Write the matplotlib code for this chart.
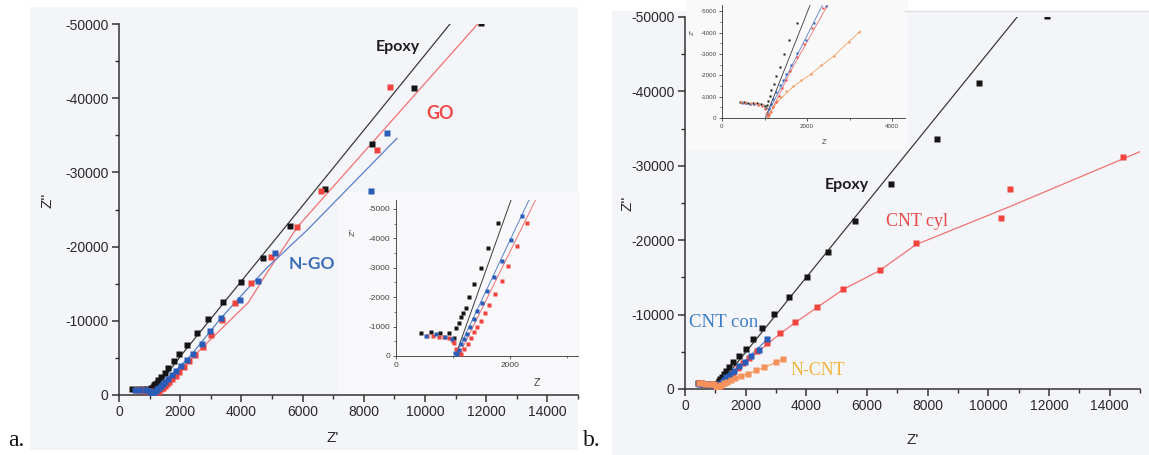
import matplotlib
matplotlib.use("Agg")
import matplotlib.pyplot as plt
from matplotlib.patches import Rectangle
from matplotlib.ticker import MultipleLocator

# ---------------- panel a: epoxy / GO / N-GO coatings ----------------
a_epoxy_x = [435, 610, 770, 930, 1020, 1061, 1100, 1142, 1183, 1235, 1287, 1374, 1490, 1612,
             1786, 1971, 2212, 2539, 2918, 3389, 3977, 4716, 5588, 6732, 8268, 9640, 11830]
a_epoxy_y = [-770, -800, -790, -770, -600, -950, -1120, -1320, -1460, -1630, -2000, -2440, -3000,
             -3670, -4520, -5500, -6760, -8290, -10230, -12480, -15180, -18470, -22840, -27700,
             -33780, -41350, -50150]
a_epoxy_fit_x = [1043, 2030, 10817]
a_epoxy_fit_y = [0, -5340, -50000]

a_go_x = [551, 650, 754, 850, 927, 1000, 1026, 1060, 1100, 1150, 1200, 1260, 1320, 1380, 1432,
          1496, 1565, 1641, 1739, 1855, 1971, 2133, 2301, 2484, 2750, 3007, 3350, 3780, 4310,
          4960, 5830, 6601, 8431, 8856]
a_go_y = [-680, -690, -660, -650, -600, -520, -450, -250, -120, -80, -250, -420, -600, -800,
          -1000, -1200, -1450, -1730, -2100, -2550, -3070, -3740, -4530, -5400, -6500, -8050,
          -10050, -12400, -15100, -18550, -22700, -27430, -32970, -41490]
a_go_fit_x = [1100, 2464, 3950, 4220, 4840, 5840, 11722]
a_go_fit_y = [0, -5340, -11350, -12430, -16500, -22700, -50000]

a_ngo_x = [522, 696, 870, 986, 1043, 1070, 1100, 1150, 1200, 1246, 1304, 1374, 1432, 1507, 1606,
           1728, 1855, 2023, 2214, 2410, 2707, 2974, 3340, 3954, 4537, 5098, 8235, 8758]
a_ngo_y = [-680, -740, -635, -570, -90, -60, -200, -400, -580, -750, -1000, -1250, -1540, -1810,
           -2210, -2680, -3240, -3950, -4760, -5550, -6900, -8650, -10420, -12750, -15400,
           -19200, -27430, -35270]
a_ngo_fit_x = [1043, 2348, 3300, 4052, 4837, 6134, 9085]
a_ngo_fit_y = [0, -5340, -10200, -13650, -17160, -22160, -34600]

# ---------------- panel b: epoxy / CNT coatings ----------------
b_epoxy_x = [430, 520, 620, 720, 820, 920, 1000, 1030, 1060, 1090, 1120, 1160, 1215, 1278, 1357,
             1452, 1586, 1767, 2010, 2240, 2537, 2932, 3427, 4020, 4712, 5601, 6787, 8303, 9687,
             11928]
b_epoxy_y = [-760, -740, -720, -700, -690, -670, -550, -450, -600, -800, -1050, -1310, -1590,
             -1960, -2400, -2980, -3640, -4470, -5380, -6720, -8200, -10080, -12370, -15050,
             -18410, -22580, -27550, -33600, -41130, -50100]
b_epoxy_fit_x = [1018, 10950]
b_epoxy_fit_y = [0, -50000]

b_cyl_x = [450, 550, 650, 750, 850, 950, 1020, 1050, 1080, 1110, 1150, 1200, 1260, 1330, 1410,
           1500, 1593, 1751, 1925, 2123, 2383, 2712, 3140, 3640, 4355, 5206, 6425, 7611, 10412,
           10708, 14432]
b_cyl_y = [-740, -700, -680, -650, -620, -560, -400, -200, -100, -150, -300, -500, -750, -1050,
           -1400, -1800, -2210, -2840, -3460, -4230, -5170, -6230, -7500, -9020, -11000, -13440,
           -15990, -19620, -22980, -26880, -31180]
b_cyl_fit_x = [1080, 1600, 2400, 3160, 3660, 4350, 5200, 6430, 7610, 10700, 15000]
b_cyl_fit_y = [0, -2150, -5000, -7500, -9000, -10950, -13350, -15950, -19400, -24500, -31900]

b_con_x = [460, 560, 660, 760, 860, 960, 1020, 1060, 1100, 1150, 1210, 1280, 1360, 1440, 1515,
           1625, 1767, 1964, 2162, 2448, 2712]
b_con_y = [-720, -700, -680, -660, -640, -600, -450, -250, -400, -650, -900, -1200, -1550, -1800,
           -2060, -2480, -3060, -3680, -4460, -5240, -6680]
b_con_fit_x = [1018, 1500, 2745]
b_con_fit_y = [0, -1900, -6810]

b_ncnt_x = [450, 560, 670, 780, 880, 960, 1010, 1040, 1070, 1120, 1200, 1290, 1380, 1500, 1660,
            1860, 2080, 2330, 2620, 2990, 3220]
b_ncnt_y = [-760, -740, -720, -700, -680, -620, -450, -250, -100, -300, -550, -780, -1000, -1250,
            -1500, -1780, -2080, -2500, -2900, -3580, -4030]
b_ncnt_fit_x = [1040, 1300, 1660, 2080, 2620, 3250]
b_ncnt_fit_y = [0, -750, -1450, -2050, -2900, -4080]

# ---------------- figure ----------------
plt.rcParams['font.family'] = ['Liberation Sans', 'DejaVu Sans']
plt.rcParams['axes.unicode_minus'] = False

W, H = 1149, 455
fig = plt.figure(figsize=(W / 100, H / 100), dpi=100)
fig.patch.set_facecolor('white')


def box(x0, y0, x1, y1):
    """pixel box measured from the top-left corner -> figure-fraction rect"""
    return [x0 / W, 1 - y1 / H, (x1 - x0) / W, (y1 - y0) / H]


def backdrop(x0, y0, x1, y1, color):
    r = Rectangle((x0 / W, 1 - y1 / H), (x1 - x0) / W, (y1 - y0) / H,
                  transform=fig.transFigure, facecolor=color, edgecolor='none', zorder=-10)
    fig.patches.append(r)


backdrop(30, 7, 578, 450, '#f4f5f8')
backdrop(612, 11, 1149, 455, '#f4f5f8')
backdrop(338, 192, 580, 398, '#f8f8fa')
backdrop(686, 0, 908, 150, '#f9f9fa')
# thin rule along the top edge of panel b
fig.add_artist(plt.Line2D([905 / W, 1.0], [1 - 11 / H, 1 - 11 / H], transform=fig.transFigure,
                          color='#dedfe2', lw=1.0, zorder=-5))


def style(ax, xmaj, xmin, ymaj, ymin, size, big=True):
    for s in ('top', 'right'):
        ax.spines[s].set_visible(False)
    for s in ('left', 'bottom'):
        ax.spines[s].set_color('#333333')
        ax.spines[s].set_linewidth(1.1 if big else 0.6)
    ax.set_facecolor('none')
    ax.xaxis.set_major_locator(MultipleLocator(xmaj))
    ax.xaxis.set_minor_locator(MultipleLocator(xmin))
    ax.yaxis.set_major_locator(MultipleLocator(ymaj))
    ax.yaxis.set_minor_locator(MultipleLocator(ymin))
    if big:
        ax.tick_params(which='major', direction='out', length=5, width=1.1, pad=2.5,
                       labelsize=size, colors='#333333', labelcolor='#2a2a2a')
        ax.tick_params(which='minor', direction='out', length=3, width=1.0, colors='#333333')
    else:
        ax.tick_params(which='major', direction='out', length=2.5, width=0.6, pad=1.5,
                       labelsize=size, colors='#444444', labelcolor='#444444')
        ax.tick_params(which='minor', direction='out', length=1.5, width=0.5, colors='#444444')


def series(ax, x, y, fx, fy, mcol, lcol, ms, lw):
    ax.plot(fx, fy, color=lcol, lw=lw, zorder=2)
    ax.plot(x, y, ls='none', marker='s', ms=ms, mfc=mcol, mec='none', zorder=3)


BLACK, BLACK_L = '#151515', '#3a3a3a'
RED, RED_L = '#f0443e', '#f07272'
BLUE, BLUE_L = '#2a5db8', '#5a80cc'
ORANGE, ORANGE_L = '#f5915a', '#f5a45e'

# ---- panel a main ----
axa = fig.add_axes(box(119, 24, 578, 395))
style(axa, 2000, 1000, 10000, 5000, 10)
axa.set_xlim(0, 15000)
axa.set_ylim(0, -50000)
series(axa, a_epoxy_x, a_epoxy_y, a_epoxy_fit_x, a_epoxy_fit_y, BLACK, BLACK_L, 3.8, 0.9)
series(axa, a_go_x, a_go_y, a_go_fit_x, a_go_fit_y, RED, RED_L, 3.8, 0.9)
series(axa, a_ngo_x, a_ngo_y, a_ngo_fit_x, a_ngo_fit_y, BLUE, BLUE_L, 3.8, 0.9)
axa.text(9118, -46900, 'Epoxy', family=['Lato', 'DejaVu Sans'], weight='bold', fontsize=11.5,
         color='#1e1e1e', ha='center', va='center')
axa.text(10490, -37970, 'GO', family=['Lato', 'DejaVu Sans'], weight='bold', fontsize=13,
         color='#ee4b48', ha='center', va='center')
axa.text(6300, -17700, 'N-GO', family=['Lato', 'DejaVu Sans'], weight='bold', fontsize=12.5,
         color='#3a6db8', ha='center', va='center')

# ---- panel a inset ----
axai = fig.add_axes(box(396, 200, 578, 356))
style(axai, 2000, 1000, 1000, 500, 6, big=False)
axai.set_xlim(0, 3200)
axai.set_ylim(0, -5300)
series(axai, a_epoxy_x, a_epoxy_y, a_epoxy_fit_x, a_epoxy_fit_y, BLACK, BLACK_L, 2.4, 0.7)
series(axai, a_go_x, a_go_y, a_go_fit_x, a_go_fit_y, RED, RED_L, 2.4, 0.7)
series(axai, a_ngo_x, a_ngo_y, a_ngo_fit_x, a_ngo_fit_y, BLUE, BLUE_L, 2.4, 0.7)
fig.text(353 / W, 1 - 232 / H, "Z''", fontsize=6, rotation=90, ha='center', va='center',
         color='#444444')
fig.text(538 / W, 1 - 383 / H, "Z'", fontsize=7, ha='center', va='center', color='#444444')

# ---- panel b main ----
axb = fig.add_axes(box(685, 17, 1140, 389))
style(axb, 2000, 1000, 10000, 5000, 10)
axb.set_xlim(0, 15000)
axb.set_ylim(0, -50000)
series(axb, b_epoxy_x, b_epoxy_y, b_epoxy_fit_x, b_epoxy_fit_y, BLACK, BLACK_L, 3.8, 0.9)
series(axb, b_cyl_x, b_cyl_y, b_cyl_fit_x, b_cyl_fit_y, RED, RED_L, 3.8, 0.9)
series(axb, b_con_x, b_con_y, b_con_fit_x, b_con_fit_y, BLUE, BLUE_L, 3.8, 0.9)
series(axb, b_ncnt_x, b_ncnt_y, b_ncnt_fit_x, b_ncnt_fit_y, ORANGE, ORANGE_L, 3.8, 0.9)
axb.text(5338, -27400, 'Epoxy', family=['Lato', 'DejaVu Sans'], weight='bold', fontsize=11.5,
         color='#1e1e1e', ha='center', va='center')
axb.text(7644, -22450, 'CNT cyl', family=['Liberation Serif', 'DejaVu Serif'], fontsize=13,
         color='#e84a4a', ha='center', va='center')
axb.text(1285, -9000, 'CNT con', family=['Liberation Serif', 'DejaVu Serif'], fontsize=13.5,
         color='#3d7cc9', ha='center', va='center')
axb.text(4382, -2420, 'N-CNT', family=['Liberation Serif', 'DejaVu Serif'], fontsize=13,
         color='#f0b43c', ha='center', va='center')

# ---- panel b inset ----
axbi = fig.add_axes(box(722, 5, 905, 118))
style(axbi, 2000, 1000, 1000, 500, 4.5, big=False)
axbi.set_xlim(0, 4300)
axbi.set_ylim(0, -5300)
series(axbi, b_epoxy_x, b_epoxy_y, b_epoxy_fit_x, b_epoxy_fit_y, BLACK, BLACK_L, 1.8, 0.6)
series(axbi, b_cyl_x, b_cyl_y, b_cyl_fit_x, b_cyl_fit_y, RED, RED_L, 1.8, 0.6)
series(axbi, b_con_x, b_con_y, b_con_fit_x, b_con_fit_y, BLUE, BLUE_L, 1.8, 0.6)
series(axbi, b_ncnt_x, b_ncnt_y, b_ncnt_fit_x, b_ncnt_fit_y, ORANGE, ORANGE_L, 1.8, 0.6)
fig.text(692 / W, 1 - 32 / H, "Z''", fontsize=4.5, rotation=90, ha='center', va='center',
         color='#444444')
fig.text(825 / W, 1 - 142 / H, "Z'", fontsize=5, ha='center', va='center', color='#444444')

# ---- axis titles and panel letters ----
fig.text(48 / W, 1 - 200 / H, "Z''", fontsize=11, rotation=90, ha='center', va='center',
         color='#2a2a2a')
fig.text(333 / W, 1 - 438 / H, "Z'", fontsize=11, ha='center', va='center', color='#2a2a2a')
fig.text(628 / W, 1 - 203 / H, "Z''", fontsize=11, rotation=90, ha='center', va='center',
         color='#2a2a2a')
fig.text(913 / W, 1 - 440 / H, "Z'", fontsize=11, ha='center', va='center', color='#2a2a2a')
fig.text(16 / W, 1 - 440 / H, 'a.', family=['Liberation Serif', 'DejaVu Serif'], fontsize=17,
         ha='center', va='center', color='#111111')
fig.text(592 / W, 1 - 440 / H, 'b.', family=['Liberation Serif', 'DejaVu Serif'], fontsize=17,
         ha='center', va='center', color='#111111')

fig.savefig('out.png', dpi=100)
